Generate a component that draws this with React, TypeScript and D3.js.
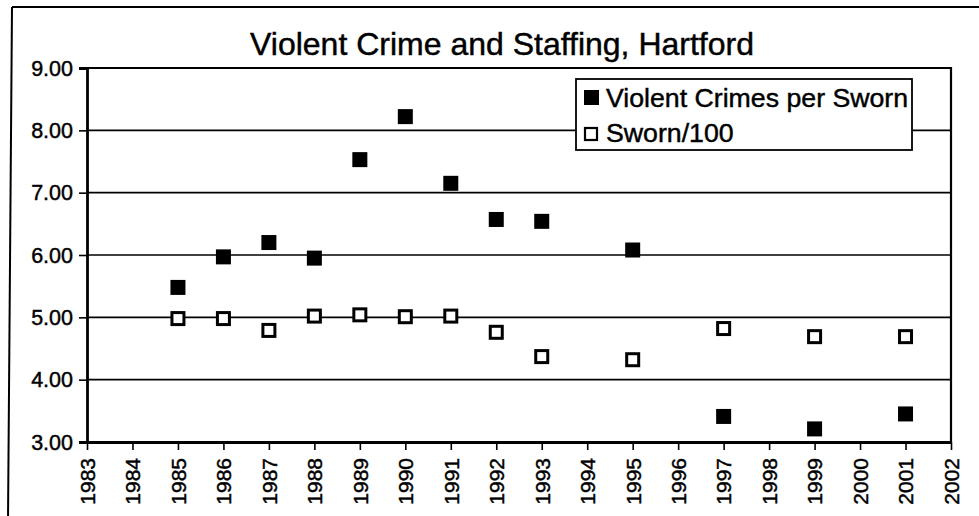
import React, { useEffect, useRef } from "react";
import * as d3 from "d3";

// Survey years with a reported value
const years = [1985, 1986, 1987, 1988, 1989, 1990, 1991, 1992, 1993, 1995, 1997, 1999, 2001];
// Violent crimes per sworn officer
const violentPerSworn = [5.48, 5.97, 6.2, 5.95, 7.53, 8.22, 7.15, 6.57, 6.54, 6.08, 3.41, 3.21, 3.45];
// Sworn officers divided by 100
const swornPer100 = [4.98, 4.98, 4.79, 5.02, 5.04, 5.01, 5.02, 4.76, 4.37, 4.32, 4.82, 4.69, 4.69];

const xTickYears = d3.range(1983, 2003);
const yTickValues = [3, 4, 5, 6, 7, 8, 9];
const seriesNames = ["Violent Crimes per Sworn", "Sworn/100"];
const title = "Violent Crime and Staffing, Hartford";

const W = 979;
const H = 516;
const plot = { left: 87, right: 951, top: 68, bottom: 442 };
const FONT = "'Liberation Sans', Arial, Helvetica, sans-serif";
const TEXT_STROKE = 0.45;

export default function App() {
  const ref = useRef<SVGSVGElement>(null);

  useEffect(() => {
    const svg = d3.select(ref.current);
    svg.selectAll("*").remove();

    const x = d3.scaleLinear().domain([1983, 2002]).range([plot.left, plot.right]);
    const y = d3.scaleLinear().domain([3, 9]).range([plot.bottom, plot.top]);

    svg.append("rect").attr("width", W).attr("height", H).attr("fill", "#fff");

    // outer chart frame
    svg.append("line").attr("x1", 12).attr("y1", 7).attr("x2", W + 5).attr("y2", 7)
      .attr("stroke", "#000").attr("stroke-width", 2);
    svg.append("line").attr("x1", 12).attr("y1", 7).attr("x2", 8).attr("y2", H + 5)
      .attr("stroke", "#000").attr("stroke-width", 2);

    // title
    svg.append("text")
      .attr("x", 502).attr("y", 55)
      .attr("text-anchor", "middle")
      .attr("font-family", FONT).attr("font-size", 32)
      .attr("fill", "#000").attr("stroke", "#000").attr("stroke-width", TEXT_STROKE)
      .text(title);

    // horizontal gridlines
    svg.append("g")
      .selectAll("line")
      .data(yTickValues.filter((v) => v > 3 && v < 9))
      .join("line")
      .attr("x1", plot.left).attr("x2", plot.right)
      .attr("y1", (d) => y(d)).attr("y2", (d) => y(d))
      .attr("stroke", "#000").attr("stroke-width", 1.6);

    // plot area border (top and right)
    svg.append("path")
      .attr("d", `M${plot.left},${plot.top}H${plot.right}V${plot.bottom}`)
      .attr("fill", "none").attr("stroke", "#000").attr("stroke-width", 2.2);

    // y axis
    const yAxis = d3.axisLeft(y)
      .tickValues(yTickValues)
      .tickFormat((d) => d3.format(".2f")(d as number))
      .tickSize(8)
      .tickPadding(6);
    const gy = svg.append("g").attr("transform", `translate(${plot.left},0)`).call(yAxis);
    gy.select(".domain").attr("stroke", "#000").attr("stroke-width", 2.8);
    gy.selectAll(".tick line").attr("stroke", "#000").attr("stroke-width", 1.6);
    gy.selectAll(".tick text")
      .attr("font-family", FONT).attr("font-size", 21.5).attr("fill", "#000")
      .attr("stroke", "#000").attr("stroke-width", TEXT_STROKE)
      .attr("dy", "0.33em");

    // x axis
    const xAxis = d3.axisBottom(x)
      .tickValues(xTickYears)
      .tickFormat((d) => String(d))
      .tickSize(8)
      .tickSizeOuter(0);
    const gx = svg.append("g").attr("transform", `translate(0,${plot.bottom})`).call(xAxis);
    gx.select(".domain").attr("stroke", "#000").attr("stroke-width", 2.8);
    gx.selectAll(".tick line").attr("stroke", "#000").attr("stroke-width", 1.6);
    gx.selectAll(".tick text")
      .attr("font-family", FONT).attr("font-size", 21).attr("fill", "#000")
      .attr("stroke", "#000").attr("stroke-width", TEXT_STROKE)
      .attr("text-anchor", "end")
      .attr("transform", "rotate(-90)")
      .attr("x", -16).attr("y", 0).attr("dy", "0.35em");

    // Sworn/100 markers (open squares)
    const openSize = 12;
    svg.append("g")
      .selectAll("rect")
      .data(years.map((yr, i) => ({ yr, v: swornPer100[i] })))
      .join("rect")
      .attr("x", (d) => x(d.yr) - openSize / 2)
      .attr("y", (d) => y(d.v) - openSize / 2)
      .attr("width", openSize).attr("height", openSize)
      .attr("fill", "#fff").attr("stroke", "#000").attr("stroke-width", 3);

    // violent crimes per sworn markers (filled squares)
    const fillSize = 15;
    svg.append("g")
      .selectAll("rect")
      .data(years.map((yr, i) => ({ yr, v: violentPerSworn[i] })))
      .join("rect")
      .attr("x", (d) => x(d.yr) - fillSize / 2)
      .attr("y", (d) => y(d.v) - fillSize / 2)
      .attr("width", fillSize).attr("height", fillSize)
      .attr("fill", "#000");

    // legend
    const lg = svg.append("g");
    lg.append("rect")
      .attr("x", 576).attr("y", 79).attr("width", 336).attr("height", 71)
      .attr("fill", "#fff").attr("stroke", "#000").attr("stroke-width", 1.8);
    const rows = [
      { name: seriesNames[0], filled: true, base: 107 },
      { name: seriesNames[1], filled: false, base: 142 },
    ];
    rows.forEach((r) => {
      if (r.filled) {
        lg.append("rect").attr("x", 584).attr("y", r.base - 17).attr("width", 15).attr("height", 15)
          .attr("fill", "#000");
      } else {
        lg.append("rect").attr("x", 585).attr("y", r.base - 14).attr("width", 12).attr("height", 12)
          .attr("fill", "#fff").attr("stroke", "#000").attr("stroke-width", 2.2);
      }
      lg.append("text")
        .attr("x", 606).attr("y", r.base)
        .attr("font-family", FONT).attr("font-size", 26.7).attr("fill", "#000")
        .attr("stroke", "#000").attr("stroke-width", TEXT_STROKE)
        .text(r.name);
    });
  }, []);

  return (
    <svg
      ref={ref}
      width={W}
      height={H}
      style={{ position: "absolute", left: 0, top: 0, display: "block" }}
    />
  );
}
